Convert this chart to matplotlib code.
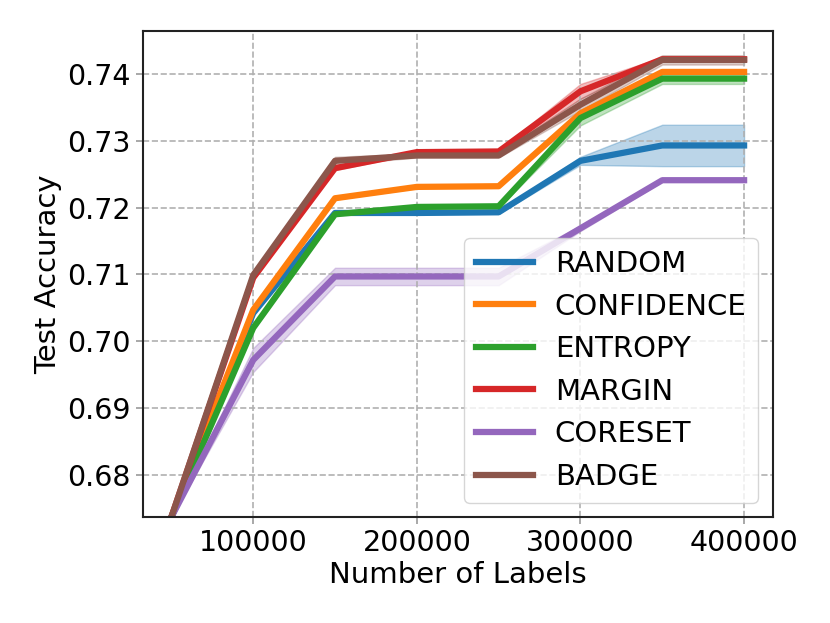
import matplotlib
matplotlib.use("Agg")
import matplotlib.pyplot as plt
import numpy as np

labels_x = [50000, 100000, 150000, 200000, 250000, 300000, 350000, 400000]

names = ["RANDOM", "CONFIDENCE", "ENTROPY", "MARGIN", "CORESET", "BADGE"]
colors = ["#1f77b4", "#ff7f0e", "#2ca02c", "#d62728", "#9467bd", "#8c564b"]

random_mean = [0.6737, 0.7042, 0.7192, 0.7192, 0.7193, 0.7270, 0.7293, 0.7293]
random_std = [0.0, 0.0003, 0.0002, 0.0002, 0.0002, 0.0006, 0.0031, 0.0031]
confidence_mean = [0.6737, 0.7047, 0.7214, 0.7231, 0.7232, 0.7341, 0.7403, 0.7403]
confidence_std = [0.0, 0.0003, 0.0002, 0.0002, 0.0002, 0.0005, 0.0003, 0.0003]
entropy_mean = [0.6737, 0.7020, 0.7190, 0.7201, 0.7202, 0.7334, 0.7393, 0.7393]
entropy_std = [0.0, 0.0003, 0.0002, 0.0002, 0.0002, 0.0011, 0.0008, 0.0008]
margin_mean = [0.6737, 0.7095, 0.7259, 0.7283, 0.7284, 0.7374, 0.7422, 0.7422]
margin_std = [0.0, 0.0003, 0.0003, 0.0002, 0.0002, 0.0011, 0.0003, 0.0003]
coreset_mean = [0.6737, 0.6972, 0.7097, 0.7097, 0.7097, 0.7169, 0.7241, 0.7241]
coreset_std = [0.0, 0.0018, 0.0013, 0.0013, 0.0013, 0.0004, 0.0002, 0.0002]
badge_mean = [0.6737, 0.7099, 0.7270, 0.7278, 0.7278, 0.7354, 0.7421, 0.7421]
badge_std = [0.0, 0.0006, 0.0006, 0.0003, 0.0003, 0.0009, 0.0007, 0.0007]

means = [random_mean, confidence_mean, entropy_mean, margin_mean, coreset_mean, badge_mean]
stds = [random_std, confidence_std, entropy_std, margin_std, coreset_std, badge_std]

fig = plt.figure(figsize=(8.3, 6.23), dpi=100)
ax = fig.add_axes([0.172, 0.170, 0.759, 0.780])

x = np.array(labels_x)
for name, c, m, s in zip(names, colors, means, stds):
    m = np.array(m)
    s = np.array(s)
    ax.plot(x, m, color=c, lw=4.5, label=name)
    ax.fill_between(x, m - s, m + s, color=c, alpha=0.3)

ax.set_ylim(0.6737, 0.7464)
ax.set_xlim(32500, 417500)
ax.set_xticks([100000, 200000, 300000, 400000])
ax.set_yticks([0.68, 0.69, 0.70, 0.71, 0.72, 0.73, 0.74])
ax.ticklabel_format(axis='x', style='plain', useOffset=False)
ax.tick_params(labelsize=20.5, width=1.2, length=5, color='#999999')
ax.grid(True, linestyle='--', color='#b0b0b0', linewidth=1.2)
for sp in ax.spines.values():
    sp.set_linewidth(1.5)
    sp.set_color('#222222')
ax.set_xlabel("Number of Labels", fontsize=21, labelpad=3)
ax.set_ylabel("Test Accuracy", fontsize=21)
ax.legend(loc='lower right', fontsize=21, framealpha=0.8,
          handlelength=1.95, handletextpad=0.75, labelspacing=0.5)

fig.savefig("out.png", dpi=100)
